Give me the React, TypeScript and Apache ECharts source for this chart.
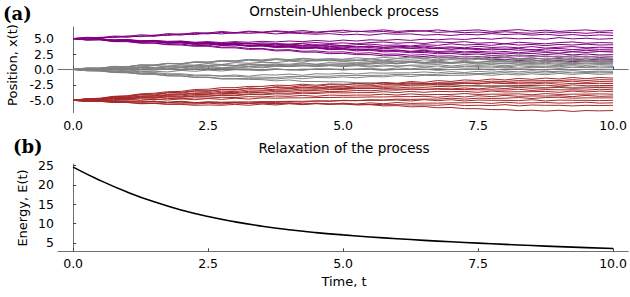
import React, { useEffect, useRef } from "react";
import * as echarts from "echarts";

// time grid of the simulated trajectories (t = 0 .. 10)
const TIME = [
  0, 0.25, 0.5, 0.75, 1, 1.25, 1.5, 1.75, 2, 2.25,
  2.5, 2.75, 3, 3.25, 3.5, 3.75, 4, 4.25, 4.5, 4.75,
  5, 5.25, 5.5, 5.75, 6, 6.25, 6.5, 6.75, 7, 7.25,
  7.5, 7.75, 8, 8.25, 8.5, 8.75, 9, 9.25, 9.5, 9.75,
  10,
];

// trajectories started at x = 5
const PURPLE_PATHS = [
  [5.0,5.2,5.15,5.4,5.35,5.6,5.5,5.8,5.7,5.95, 5.9,6.15,5.95,6.2,6.05,6.25,6.1,6.3,6.05,6.2, 6.35,6.1,6.25,6.4,6.15,6.3,6.2,6.4,6.15,6.3, 6.4,6.15,6.3,6.45,6.2,6.35,6.15,6.3,6.4,6.2, 6.3],
  [5.0,5.15,5.05,5.3,5.2,5.45,5.35,5.65,5.55,5.85, 5.75,6.0,5.85,6.1,5.95,6.15,5.95,6.05,5.9,6.15, 6.0,6.2,6.05,6.15,5.95,6.15,6.25,6.0,6.1,5.95, 6.05,5.9,6.1,5.95,5.85,6.05,5.9,6.0,5.85,6.0, 5.9],
  [5.0,5.05,5.2,5.15,5.4,5.3,5.55,5.5,5.75,5.65, 5.9,5.75,5.95,5.85,5.95,5.75,5.9,5.8,5.7,5.8, 5.6,5.7,5.55,5.8,5.7,5.75,5.55,5.65,5.5,5.7, 5.6,5.8,5.65,5.75,5.55,5.7,5.5,5.65,5.45,5.6, 5.5],
  [5.0,4.9,4.95,4.8,4.85,4.65,4.7,4.55,4.6,4.4, 4.5,4.35,4.5,4.4,4.55,4.45,4.6,4.5,4.7,4.55, 4.75,4.6,4.8,4.7,4.85,4.7,4.9,4.8,4.95,4.85, 5.05,4.9,5.1,4.95,5.05,4.9,5.15,4.95,5.05,4.9, 5.0],
  [5.0,4.85,4.9,4.7,4.75,4.55,4.6,4.4,4.5,4.3, 4.4,4.2,4.35,4.15,4.3,4.2,4.1,4.25,4.35,4.2, 4.3,4.15,4.35,4.45,4.25,4.35,4.2,4.45,4.35,4.5, 4.25,4.35,4.15,4.4,4.25,4.15,4.35,4.45,4.25,4.35, 4.3],
  [5.0,4.9,4.95,4.7,4.8,4.55,4.6,4.4,4.45,4.2, 4.3,4.1,4.2,4.25,4.0,4.1,3.95,4.15,3.9,4.05, 3.85,4.0,4.1,3.9,3.95,3.8,4.0,3.9,4.15,3.95, 4.05,3.9,4.15,3.95,4.05,3.85,4.05,3.95,4.1,3.95, 4.0],
  [5.0,4.85,4.9,4.65,4.7,4.45,4.55,4.3,4.35,4.1, 4.2,3.95,4.1,3.85,3.95,3.8,3.95,3.75,3.85,3.7, 3.8,3.65,3.75,3.55,3.75,3.65,3.8,3.55,3.65,3.5, 3.75,3.55,3.65,3.5,3.7,3.45,3.6,3.7,3.5,3.6, 3.55],
  [5.0,4.85,4.9,4.7,4.65,4.5,4.55,4.35,4.4,4.15, 4.25,4.0,4.05,3.85,3.95,3.7,3.8,3.6,3.7,3.5, 3.6,3.45,3.55,3.35,3.5,3.4,3.3,3.45,3.25,3.4, 3.2,3.35,3.25,3.4,3.15,3.3,3.4,3.2,3.35,3.25, 3.3],
  [5.0,4.85,4.9,4.65,4.7,4.5,4.55,4.3,4.35,4.15, 4.2,3.95,4.0,3.8,3.85,3.65,3.7,3.45,3.55,3.35, 3.4,3.2,3.3,3.1,3.15,2.95,3.1,2.9,3.0,2.85, 2.95,2.8,2.9,2.7,2.9,2.75,2.65,2.85,2.75,2.9, 2.8],
  [5.0,4.8,4.85,4.65,4.7,4.45,4.5,4.3,4.35,4.1, 4.15,3.95,4.05,3.8,3.85,3.65,3.7,3.5,3.55,3.3, 3.35,3.15,3.25,3.0,3.1,2.85,2.95,2.75,2.85,2.65, 2.75,2.55,2.65,2.5,2.6,2.4,2.55,2.35,2.5,2.35, 2.4],
  [5.0,4.85,4.85,4.6,4.65,4.45,4.5,4.25,4.3,4.1, 4.1,3.9,3.95,3.75,3.8,3.55,3.6,3.35,3.45,3.2, 3.25,3.0,3.1,2.85,2.9,2.7,2.75,2.55,2.6,2.4, 2.5,2.25,2.35,2.15,2.25,2.05,2.15,2.0,2.15,1.95, 2.05],
  [5.0,4.8,4.8,4.55,4.55,4.3,4.3,4.05,4.1,3.85, 3.9,3.6,3.65,3.4,3.4,3.15,3.2,2.95,3.0,2.8, 2.85,2.6,2.7,2.45,2.5,2.3,2.4,2.15,2.2,2.0, 2.1,1.9,1.95,1.75,1.85,1.65,1.75,1.55,1.7,1.55, 1.6],
  [5.0,4.75,4.8,4.5,4.5,4.25,4.25,4.0,3.95,3.75, 3.75,3.5,3.5,3.25,3.3,3.0,3.05,2.8,2.8,2.55, 2.6,2.4,2.4,2.2,2.25,2.0,2.1,1.85,1.95,1.7, 1.8,1.55,1.65,1.45,1.55,1.35,1.45,1.25,1.4,1.2, 1.25],
  [5.0,4.9,4.95,4.75,4.8,4.6,4.7,4.45,4.55,4.3, 4.4,4.15,4.3,4.1,4.15,3.95,4.05,3.85,4.0,3.8, 3.85,3.65,3.8,3.6,3.65,3.45,3.6,3.35,3.5,3.3, 3.4,3.15,3.3,3.1,3.2,2.95,3.1,2.9,3.1,2.95, 3.0],
];

// trajectories started at x = 0
const GRAY_PATHS = [
  [0,0.2,0.2,0.45,0.4,0.7,0.6,0.95,0.85,1.15, 1.05,1.35,1.2,1.5,1.3,1.6,1.45,1.7,1.6,1.75, 1.65,1.9,1.7,1.95,1.8,2.0,1.85,2.1,1.9,2.15, 2.0,2.2,2.05,2.3,2.05,2.2,2.0,2.25,2.05,2.2, 2.1],
  [0,0.15,0.2,0.1,0.45,0.35,0.65,0.5,0.75,0.7, 0.95,0.8,1.1,1.0,1.15,1.1,1.35,1.2,1.5,1.4, 1.55,1.45,1.7,1.5,1.75,1.65,1.8,1.55,1.75,1.7, 1.85,1.7,1.95,1.75,1.85,1.7,1.95,1.75,1.9,1.75, 1.8],
  [0,0.25,0.2,0.5,0.45,0.75,0.7,1.0,0.9,1.25, 1.2,1.45,1.35,1.6,1.4,1.65,1.45,1.5,1.35,1.5, 1.25,1.45,1.3,1.2,1.4,1.3,1.55,1.4,1.6,1.45, 1.65,1.5,1.45,1.65,1.5,1.4,1.55,1.6,1.4,1.55, 1.5],
  [0,0.1,0.1,0.25,0.2,0.35,0.2,0.45,0.4,0.55, 0.6,0.8,0.65,0.9,0.8,0.9,0.85,1.05,0.85,1.1, 1.0,1.1,1.05,1.25,1.05,1.15,1.1,1.3,1.1,1.2, 1.15,1.35,1.2,1.25,1.1,1.35,1.2,1.1,1.25,1.2, 1.2],
  [0,0.15,0.0,0.25,0.1,0.35,0.25,0.4,0.35,0.55, 0.4,0.65,0.5,0.75,0.6,0.85,0.7,0.9,0.8,0.85, 0.9,1.0,0.95,1.05,0.95,1.15,0.95,1.05,0.95,1.1, 0.85,1.05,1.0,1.1,0.95,1.15,1.0,0.9,1.05,1.0, 1.0],
  [0,-0.15,0.05,-0.1,0.15,0.0,0.25,0.1,0.35,0.2, 0.4,0.3,0.35,0.5,0.4,0.55,0.45,0.65,0.45,0.6, 0.6,0.7,0.55,0.75,0.5,0.7,0.7,0.8,0.55,0.75, 0.65,0.8,0.6,0.8,0.7,0.75,0.6,0.8,0.65,0.8, 0.7],
  [0,0.15,0.15,0.25,0.25,0.45,0.3,0.55,0.55,0.65, 0.65,0.8,0.6,0.85,0.65,0.65,0.6,0.75,0.5,0.65, 0.45,0.6,0.4,0.55,0.55,0.6,0.4,0.55,0.35,0.5, 0.5,0.55,0.4,0.6,0.45,0.45,0.45,0.6,0.4,0.55, 0.5],
  [0,-0.15,-0.15,-0.25,-0.25,-0.35,-0.3,-0.4,-0.15,-0.3, -0.1,-0.25,-0.05,-0.1,-0.2,0.0,-0.05,-0.15,0.1,0.05, 0.05,0.05,0.2,0.0,0.25,0.1,0.3,0.15,0.35,0.2, 0.25,0.25,0.4,0.2,0.35,0.3,0.2,0.35,0.3,0.25, 0.3],
  [0,0.1,-0.1,0.15,-0.05,0.2,0.0,0.25,0.05,0.3, 0.15,0.15,0.1,0.1,-0.05,0.15,-0.1,0.05,0.05,0.1, -0.1,0.05,0.0,-0.15,0.0,0.0,0.05,-0.15,0.0,0.0, 0.05,-0.1,0.1,0.05,0.05,-0.1,0.1,-0.05,0.0,-0.05, 0.0],
  [0,-0.2,-0.2,-0.45,-0.45,-0.65,-0.65,-0.85,-0.85,-1.05, -1.0,-1.05,-0.9,-1.1,-0.85,-0.9,-0.75,-0.95,-0.7,-0.75, -0.6,-0.75,-0.55,-0.6,-0.55,-0.55,-0.4,-0.55,-0.35,-0.5, -0.3,-0.45,-0.25,-0.4,-0.2,-0.35,-0.3,-0.2,-0.35,-0.3, -0.3],
  [0,-0.15,-0.15,-0.35,-0.3,-0.55,-0.5,-0.7,-0.7,-0.9, -0.9,-1.1,-1.1,-1.25,-1.25,-1.3,-1.15,-1.15,-1.1,-1.1, -0.95,-1.0,-0.95,-0.95,-0.8,-0.85,-0.8,-0.8,-0.65,-0.7, -0.65,-0.65,-0.5,-0.65,-0.45,-0.6,-0.4,-0.55,-0.5,-0.55, -0.5],
  [0,-0.2,-0.25,-0.45,-0.5,-0.75,-0.75,-1.0,-1.05,-1.25, -1.25,-1.45,-1.45,-1.5,-1.5,-1.55,-1.35,-1.5,-1.3,-1.35, -1.2,-1.35,-1.15,-1.2,-1.0,-1.15,-0.95,-1.0,-0.95,-0.95, -0.8,-0.95,-0.75,-0.9,-0.7,-0.85,-0.65,-0.8,-0.65,-0.8, -0.7],
  [0,0.0,-0.2,-0.05,-0.25,-0.1,-0.1,0.05,-0.15,0.1, 0.1,0.15,0.2,0.4,0.25,0.5,0.5,0.55,0.6,0.75, 0.75,0.8,0.85,1.05,0.9,1.15,1.1,1.1,1.15,1.3, 1.15,1.35,1.3,1.3,1.3,1.45,1.25,1.45,1.4,1.4, 1.4],
  [0,-0.2,-0.25,-0.5,-0.55,-0.75,-0.8,-1.05,-1.05,-1.3, -1.3,-1.55,-1.55,-1.6,-1.65,-1.85,-1.7,-1.95,-1.95,-2.0, -2.0,-2.15,-2.15,-2.2,-2.25,-2.4,-2.4,-2.55,-2.55,-2.6, -2.6,-2.75,-2.75,-2.8,-2.8,-2.95,-2.75,-2.9,-2.85,-2.85, -2.85],
  [0,0.2,0.2,0.45,0.45,0.7,0.75,0.95,0.95,1.2, 1.2,1.4,1.4,1.6,1.55,1.75,1.6,1.8,1.65,1.65, 1.5,1.55,1.35,1.5,1.3,1.35,1.15,1.3,1.1,1.15, 1.0,1.05,0.9,1.05,0.85,1.0,0.8,0.95,0.9,0.95, 0.9],
];

// trajectories started at x = -5
const BROWN_PATHS = [
  [-5,-4.75,-4.75,-4.45,-4.45,-4.1,-4.15,-3.8,-3.85,-3.5, -3.55,-3.25,-3.35,-3.0,-3.1,-2.8,-2.9,-2.6,-2.75,-2.45, -2.55,-2.25,-2.4,-2.1,-2.25,-1.95,-2.1,-1.8,-1.95,-1.7, -1.8,-1.55,-1.7,-1.45,-1.6,-1.4,-1.55,-1.3,-1.5,-1.3, -1.4],
  [-5,-4.85,-4.8,-4.55,-4.55,-4.3,-4.25,-4.05,-4.0,-3.8, -3.75,-3.5,-3.6,-3.3,-3.35,-3.2,-3.1,-2.95,-3.0,-2.75, -2.8,-2.65,-2.65,-2.45,-2.5,-2.3,-2.35,-2.15,-2.2,-2.05, -2.05,-1.9,-1.95,-1.8,-1.85,-1.8,-1.8,-1.65,-1.8,-1.65, -1.7],
  [-5,-4.8,-4.85,-4.55,-4.6,-4.35,-4.35,-4.15,-4.1,-3.9, -3.95,-3.7,-3.75,-3.55,-3.5,-3.35,-3.35,-3.15,-3.2,-3.0, -3.0,-2.85,-2.85,-2.7,-2.7,-2.55,-2.55,-2.4,-2.45,-2.25, -2.3,-2.15,-2.2,-2.05,-2.1,-2.05,-2.05,-1.9,-2.1,-1.95, -2.0],
  [-5,-4.75,-4.65,-4.35,-4.25,-3.95,-3.85,-3.6,-3.55,-3.25, -3.2,-2.95,-2.95,-2.75,-2.75,-2.55,-2.6,-2.4,-2.55,-2.35, -2.4,-2.35,-2.35,-2.2,-2.35,-2.15,-2.3,-2.25,-2.25,-2.2, -2.35,-2.15,-2.3,-2.3,-2.35,-2.2,-2.4,-2.25,-2.3,-2.25, -2.3],
  [-5,-4.85,-4.85,-4.65,-4.7,-4.45,-4.5,-4.25,-4.3,-4.05, -4.05,-3.9,-3.9,-3.7,-3.75,-3.55,-3.55,-3.4,-3.4,-3.25, -3.25,-3.1,-3.1,-2.95,-3.0,-2.85,-2.9,-2.75,-2.8,-2.65, -2.7,-2.65,-2.65,-2.6,-2.6,-2.55,-2.7,-2.5,-2.65,-2.6, -2.6],
  [-5,-4.85,-4.9,-4.7,-4.75,-4.55,-4.6,-4.4,-4.45,-4.25, -4.3,-4.1,-4.15,-3.95,-4.0,-3.8,-3.85,-3.65,-3.7,-3.55, -3.55,-3.4,-3.45,-3.3,-3.35,-3.2,-3.25,-3.1,-3.15,-3.0, -3.15,-2.95,-3.1,-2.9,-3.05,-3.0,-2.9,-3.05,-3.0,-2.9, -3.0],
  [-5,-4.75,-4.7,-4.4,-4.35,-4.05,-4.0,-3.75,-3.7,-3.45, -3.45,-3.25,-3.25,-3.05,-3.1,-2.9,-3.05,-2.85,-3.0,-2.95, -3.1,-3.05,-3.05,-3.05,-3.2,-3.15,-3.2,-3.2,-3.25,-3.25, -3.3,-3.3,-3.35,-3.2,-3.4,-3.25,-3.3,-3.3,-3.35,-3.2, -3.3],
  [-5,-4.9,-4.9,-4.75,-4.75,-4.6,-4.65,-4.45,-4.5,-4.35, -4.35,-4.2,-4.25,-4.05,-4.1,-3.95,-4.0,-3.85,-3.9,-3.75, -3.8,-3.75,-3.75,-3.6,-3.75,-3.55,-3.7,-3.55,-3.6,-3.55, -3.7,-3.5,-3.65,-3.6,-3.6,-3.55,-3.7,-3.5,-3.65,-3.5, -3.6],
  [-5,-4.9,-5.05,-4.85,-4.9,-4.75,-4.9,-4.7,-4.75,-4.6, -4.65,-4.5,-4.55,-4.4,-4.45,-4.3,-4.35,-4.2,-4.35,-4.15, -4.2,-4.15,-4.15,-4.0,-4.15,-3.95,-4.1,-4.05,-4.05,-3.9, -4.05,-4.0,-4.0,-3.95,-4.1,-3.9,-4.05,-4.0,-4.0,-3.95, -4.0],
  [-5,-5.1,-4.9,-5.05,-4.85,-5.0,-4.8,-4.95,-4.75,-4.9, -4.7,-4.85,-4.65,-4.8,-4.6,-4.65,-4.6,-4.6,-4.55,-4.55, -4.5,-4.5,-4.45,-4.45,-4.4,-4.4,-4.35,-4.5,-4.3,-4.45, -4.25,-4.4,-4.2,-4.35,-4.3,-4.3,-4.25,-4.4,-4.2,-4.35, -4.3],
  [-5,-5.15,-5.15,-5.35,-5.3,-5.5,-5.45,-5.6,-5.55,-5.6, -5.45,-5.6,-5.4,-5.45,-5.3,-5.35,-5.2,-5.3,-5.1,-5.15, -5.0,-5.05,-4.9,-4.95,-4.8,-4.85,-4.8,-4.8,-4.65,-4.8, -4.65,-4.7,-4.65,-4.55,-4.7,-4.55,-4.5,-4.65,-4.6,-4.6, -4.6],
  [-5,-5.1,-5.1,-5.15,-5.15,-5.3,-5.15,-5.35,-5.2,-5.4, -5.25,-5.3,-5.25,-5.25,-5.2,-5.2,-5.15,-5.15,-5.1,-5.1, -5.05,-5.05,-5.0,-5.0,-4.95,-5.1,-4.9,-5.05,-4.9,-5.1, -4.95,-5.0,-5.0,-5.05,-4.9,-5.1,-4.95,-5.0,-5.0,-5.05, -5.0],
  [-5,-5.15,-5.15,-5.35,-5.35,-5.55,-5.5,-5.65,-5.65,-5.8, -5.75,-5.8,-5.65,-5.8,-5.6,-5.75,-5.55,-5.7,-5.5,-5.65, -5.45,-5.6,-5.4,-5.55,-5.35,-5.5,-5.45,-5.45,-5.4,-5.4, -5.35,-5.5,-5.3,-5.45,-5.4,-5.35,-5.45,-5.4,-5.3,-5.45, -5.4],
  [-5,-5.1,-4.95,-5.15,-5.1,-5.15,-5.15,-5.3,-5.15,-5.35, -5.3,-5.35,-5.35,-5.5,-5.35,-5.55,-5.4,-5.6,-5.55,-5.6, -5.6,-5.65,-5.65,-5.7,-5.7,-5.75,-5.75,-5.8,-5.65,-5.85, -5.8,-5.85,-5.7,-5.9,-5.75,-5.8,-5.8,-5.9,-5.8,-5.85, -5.8],
  [-5,-5.1,-5.05,-5.2,-5.15,-5.3,-5.25,-5.35,-5.3,-5.45, -5.3,-5.45,-5.4,-5.5,-5.45,-5.55,-5.45,-5.6,-5.45,-5.6, -5.55,-5.75,-5.7,-5.9,-5.85,-6.05,-6.0,-6.2,-6.15,-6.35, -6.35,-6.5,-6.5,-6.65,-6.6,-6.75,-6.6,-6.8,-6.65,-6.7, -6.65],
];

// relaxation of the process
const ENERGY_T = [0, 0.5, 1, 1.5, 2, 2.5, 3, 3.5, 4, 4.5, 5, 5.5, 6, 6.5, 7, 7.5, 8, 8.5, 9, 9.5, 10];
const ENERGY = [24.6, 21.15, 18.15, 15.6, 13.5, 11.8, 10.42, 9.3, 8.38, 7.64, 7.04, 6.52, 6.06, 5.64, 5.26, 4.91, 4.59, 4.29, 4.01, 3.75, 3.51];

const X_TICKS = [0, 2.5, 5, 7.5, 10];
const POS_TICKS = [-5, -2.5, 0, 2.5, 5];
const ENERGY_TICKS = [5, 10, 15, 20, 25];

const FONT = "DejaVu Sans";

export default function App() {
  const ref = useRef<HTMLDivElement>(null);

  useEffect(() => {
    const chart = echarts.init(ref.current as HTMLDivElement, null, { renderer: "svg" });

    const pathSeries = (paths: number[][], color: string) =>
      paths.map((p) => ({
        type: "line",
        xAxisIndex: 0,
        yAxisIndex: 0,
        data: p.map((v, i) => [TIME[i], v]),
        showSymbol: false,
        symbol: "none",
        silent: true,
        lineStyle: { color, width: 1 },
        itemStyle: { color },
      }));

    const xAxisBase = (gridIndex: number) => ({
      type: "value",
      gridIndex,
      min: -0.28,
      max: 10.28,
      axisLine: { show: true, lineStyle: { color: "#707070", width: 1 } },
      axisTick: {
        show: true,
        inside: true,
        length: 3,
        customValues: X_TICKS,
        lineStyle: { color: "#404040" },
      },
      axisLabel: {
        customValues: X_TICKS,
        formatter: (v: number) => v.toFixed(1),
        color: "#000",
        fontFamily: FONT,
        fontSize: 12.5,
        margin: 6,
      },
      splitLine: { show: false },
    });

    const option = {
      animation: false,
      backgroundColor: "#fff",
      grid: [
        { left: 58, top: 27, width: 572, height: 85.7 },
        { left: 58, top: 164, width: 572, height: 87.3 },
      ],
      xAxis: [xAxisBase(0), xAxisBase(1)],
      yAxis: [
        {
          type: "value",
          gridIndex: 0,
          min: -7.0,
          max: 6.87,
          axisLine: { show: true, lineStyle: { color: "#707070", width: 1 } },
          axisTick: {
            show: true,
            inside: true,
            length: 3,
            customValues: POS_TICKS,
            lineStyle: { color: "#404040" },
          },
          axisLabel: {
            customValues: POS_TICKS,
            formatter: (v: number) => v.toFixed(1),
            color: "#000",
            fontFamily: FONT,
            fontSize: 12.5,
            margin: 4,
          },
          splitLine: { show: false },
        },
        {
          type: "value",
          gridIndex: 1,
          min: 2.8,
          max: 25.4,
          axisLine: { show: true, lineStyle: { color: "#707070", width: 1 } },
          axisTick: {
            show: true,
            inside: true,
            length: 3,
            customValues: ENERGY_TICKS,
            lineStyle: { color: "#404040" },
          },
          axisLabel: {
            customValues: ENERGY_TICKS,
            formatter: (v: number) => String(v),
            color: "#000",
            fontFamily: FONT,
            fontSize: 12.5,
            margin: 4,
          },
          splitLine: { show: false },
        },
      ],
      series: [
        ...pathSeries(PURPLE_PATHS, "#800080"),
        ...pathSeries(GRAY_PATHS, "#808080"),
        ...pathSeries(BROWN_PATHS, "#A52A2A"),
        {
          type: "line",
          xAxisIndex: 1,
          yAxisIndex: 1,
          data: ENERGY.map((v, i) => [ENERGY_T[i], v]),
          showSymbol: false,
          symbol: "none",
          smooth: true,
          silent: true,
          lineStyle: { color: "#000", width: 1.6 },
          itemStyle: { color: "#000" },
        },
      ],
      graphic: [
        {
          type: "text",
          left: 3,
          top: 4,
          style: { text: "(a)", font: "bold 18px 'DejaVu Serif'", fill: "#000" },
        },
        {
          type: "text",
          left: 13,
          top: 137,
          style: { text: "(b)", font: "bold 18px 'DejaVu Serif'", fill: "#000" },
        },
        {
          type: "text",
          x: 344,
          y: 10.5,
          style: {
            text: "Ornstein-Uhlenbeck process",
            font: `13.5px '${FONT}'`,
            fill: "#000",
            textAlign: "center",
            textVerticalAlign: "middle",
          },
        },
        {
          type: "text",
          x: 344,
          y: 147.5,
          style: {
            text: "Relaxation of the process",
            font: `13.5px '${FONT}'`,
            fill: "#000",
            textAlign: "center",
            textVerticalAlign: "middle",
          },
        },
        {
          type: "text",
          x: 12,
          y: 65,
          rotation: Math.PI / 2,
          style: {
            text: "Position, x(t)",
            font: `13px '${FONT}'`,
            fill: "#000",
            textAlign: "center",
            textVerticalAlign: "middle",
          },
        },
        {
          type: "text",
          x: 22,
          y: 208,
          rotation: Math.PI / 2,
          style: {
            text: "Energy, E(t)",
            font: `13px '${FONT}'`,
            fill: "#000",
            textAlign: "center",
            textVerticalAlign: "middle",
          },
        },
        {
          type: "text",
          x: 344,
          y: 281,
          style: {
            text: "Time, t",
            font: `13px '${FONT}'`,
            fill: "#000",
            textAlign: "center",
            textVerticalAlign: "middle",
          },
        },
      ],
    };

    chart.setOption(option as any);
    return () => chart.dispose();
  }, []);

  return (
    <div
      ref={ref}
      style={{ position: "absolute", left: 0, top: 0, width: 630, height: 297 }}
    />
  );
}
